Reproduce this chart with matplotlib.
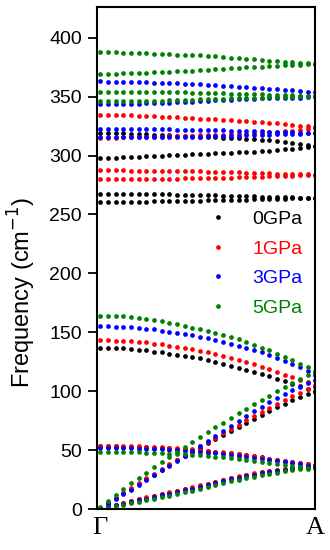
import numpy as np
import matplotlib
matplotlib.use("Agg")
import matplotlib.pyplot as plt
from matplotlib.lines import Line2D

plt.rcParams['font.family'] = ['Liberation Sans', 'DejaVu Sans']

# k-path Gamma -> A, 29 sampled points
k = np.linspace(0, 1, 29)

# ---------------- 0 GPa (black) ----------------
p0_opt1 = [319.1, 319.1, 319.0, 318.9, 318.7, 318.5, 318.2, 317.9, 317.6, 317.2, 316.9, 316.6, 316.3, 316.0, 315.7, 315.4, 315.1, 314.9, 314.6, 314.4, 314.0, 313.5, 312.9, 312.2, 311.5, 310.7, 309.8, 308.8, 307.8]
p0_opt2 = [298.2, 298.2, 298.3, 298.5, 298.8, 299.0, 299.3, 299.6, 299.9, 300.2, 300.5, 300.7, 301.0, 301.3, 301.6, 301.9, 302.1, 302.4, 302.7, 303.0, 303.4, 303.8, 304.3, 304.8, 305.3, 305.8, 306.4, 307.1, 307.8]
p0_opt3 = [267.7, 267.7, 267.6, 267.6, 267.5, 267.4, 267.3, 267.2, 267.1, 267.0, 266.9, 266.8, 266.6, 266.5, 266.3, 266.2, 266.0, 265.9, 265.7, 265.5, 265.4, 265.2, 265.0, 264.9, 264.7, 264.5, 264.4, 264.2, 264.0]
p0_opt4 = [260.6, 260.6, 260.7, 260.7, 260.8, 260.9, 261.0, 261.1, 261.2, 261.3, 261.4, 261.5, 261.6, 261.8, 261.9, 262.0, 262.2, 262.3, 262.5, 262.6, 262.8, 263.0, 263.1, 263.3, 263.4, 263.6, 263.7, 263.9, 264.0]
p0_low1 = [136.8, 136.8, 136.5, 136.3, 135.7, 135.1, 134.6, 133.7, 132.9, 132.0, 130.8, 130.0, 128.9, 127.8, 126.3, 124.7, 123.0, 121.5, 119.8, 118.1, 116.4, 114.5, 112.5, 110.5, 108.5, 106.5, 104.3, 102.0, 100.3]
p0_steep = [0.8, 4.8, 9.0, 13.2, 17.3, 21.3, 25.3, 29.2, 33.0, 37.3, 41.5, 45.0, 48.6, 52.2, 55.7, 59.3, 62.9, 66.4, 69.9, 73.3, 76.7, 80.0, 83.2, 86.4, 89.4, 92.4, 95.2, 97.5, 99.5]
p0_flat = [53.2, 53.2, 53.1, 53.0, 52.9, 52.7, 52.5, 52.2, 51.9, 51.6, 51.2, 50.8, 50.3, 49.8, 49.2, 48.6, 47.9, 47.2, 46.4, 45.6, 44.7, 43.8, 42.8, 41.8, 40.8, 39.8, 38.9, 38.0, 37.2]
p0_ta = [0.4, 1.9, 3.5, 5.1, 6.7, 8.2, 9.7, 11.2, 12.6, 14.0, 15.4, 16.8, 18.2, 19.8, 21.4, 23.0, 24.6, 26.1, 27.5, 28.8, 30.0, 31.1, 32.1, 33.0, 33.9, 34.7, 35.5, 36.3, 37.0]

# ---------------- 1 GPa (red) ----------------
p1_opt1 = [334.7, 334.7, 334.6, 334.4, 334.2, 334.0, 333.7, 333.4, 333.1, 332.7, 332.4, 332.1, 331.8, 331.4, 331.1, 330.7, 330.4, 330.0, 329.7, 329.3, 328.9, 328.4, 327.9, 327.3, 326.7, 326.1, 325.5, 324.9, 324.2]
p1_opt2 = [315.2, 315.2, 315.3, 315.4, 315.5, 315.6, 315.8, 315.9, 316.1, 316.3, 316.5, 316.7, 316.9, 317.1, 317.3, 317.5, 317.8, 318.0, 318.3, 318.6, 318.9, 319.3, 319.7, 320.2, 320.7, 321.2, 321.8, 322.4, 323.0]
p1_opt3 = [287.5, 287.5, 287.4, 287.4, 287.3, 287.3, 287.2, 287.1, 287.0, 286.9, 286.8, 286.7, 286.6, 286.5, 286.3, 286.2, 286.0, 285.9, 285.7, 285.5, 285.3, 285.1, 284.9, 284.7, 284.5, 284.4, 284.2, 284.0, 283.8]
p1_opt4 = [279.8, 279.8, 279.9, 279.9, 280.0, 280.0, 280.1, 280.2, 280.3, 280.4, 280.5, 280.6, 280.7, 280.8, 280.9, 281.0, 281.2, 281.4, 281.6, 281.8, 282.0, 282.2, 282.4, 282.6, 282.8, 283.0, 283.3, 283.5, 283.8]
p1_low1 = [143.3, 143.3, 143.0, 142.7, 142.5, 141.9, 141.4, 140.5, 139.7, 138.8, 137.6, 136.8, 135.7, 134.2, 132.9, 131.2, 129.7, 128.3, 126.3, 124.4, 122.7, 120.7, 118.5, 116.2, 114.0, 111.9, 109.8, 107.7, 105.6]
p1_steep = [1.2, 5.3, 9.6, 13.9, 18.0, 22.0, 26.0, 29.9, 33.8, 37.8, 41.8, 45.8, 49.6, 53.3, 57.0, 60.7, 64.4, 68.0, 71.6, 75.2, 78.8, 82.3, 85.8, 89.2, 92.5, 95.7, 98.7, 101.5, 104.0]
p1_flat = [53.6, 53.6, 53.5, 53.4, 53.3, 53.1, 52.9, 52.6, 52.3, 52.0, 51.6, 51.1, 50.6, 50.1, 49.5, 48.8, 48.1, 47.4, 46.6, 45.7, 44.8, 43.8, 42.8, 41.8, 40.8, 39.8, 38.8, 37.9, 37.0]
p1_ta = [0.4, 2.0, 3.6, 5.3, 6.9, 8.4, 9.9, 11.4, 12.8, 14.2, 15.6, 17.0, 18.4, 20.0, 21.6, 23.2, 24.8, 26.3, 27.7, 29.0, 30.2, 31.3, 32.3, 33.2, 34.1, 34.9, 35.7, 36.4, 37.0]

# ---------------- 3 GPa (blue) ----------------
p3_opt1 = [362.9, 362.8, 362.7, 362.6, 362.4, 362.3, 362.1, 361.9, 361.7, 361.5, 361.3, 361.0, 360.7, 360.4, 360.1, 359.7, 359.2, 358.8, 358.3, 357.8, 357.4, 357.0, 356.6, 356.2, 355.8, 355.3, 354.8, 354.3, 353.8]
p3_opt2 = [343.7, 343.7, 343.8, 343.9, 344.0, 344.2, 344.4, 344.6, 344.8, 345.0, 345.3, 345.6, 345.9, 346.2, 346.5, 346.8, 347.1, 347.4, 347.7, 348.0, 348.3, 348.5, 348.7, 348.9, 349.1, 349.2, 349.3, 349.4, 349.5]
p3_opt3 = [322.8, 322.8, 322.7, 322.7, 322.6, 322.6, 322.5, 322.4, 322.3, 322.2, 322.1, 322.0, 321.9, 321.7, 321.6, 321.5, 321.3, 321.2, 321.0, 320.8, 320.6, 320.5, 320.3, 320.1, 319.9, 319.7, 319.5, 319.3, 319.1]
p3_opt4 = [315.4, 315.4, 315.4, 315.5, 315.5, 315.5, 315.6, 315.6, 315.7, 315.7, 315.8, 315.9, 316.0, 316.1, 316.3, 316.4, 316.6, 316.8, 317.0, 317.2, 317.4, 317.6, 317.8, 318.0, 318.2, 318.4, 318.6, 318.9, 319.1]
p3_low1 = [155.2, 155.2, 154.9, 154.6, 154.3, 153.7, 152.9, 152.4, 151.2, 150.3, 149.2, 148.4, 147.3, 146.1, 144.9, 143.5, 142.0, 140.4, 138.7, 136.9, 135.0, 133.0, 130.8, 128.5, 126.0, 123.4, 120.6, 117.2, 113.6]
p3_steep = [1.0, 4.5, 8.5, 12.5, 16.5, 20.4, 24.6, 28.7, 32.8, 36.9, 41.0, 45.2, 49.5, 53.8, 58.0, 62.3, 66.6, 70.8, 75.0, 79.0, 83.0, 86.8, 90.5, 94.0, 97.5, 100.8, 103.8, 106.7, 109.5]
p3_flat = [51.8, 51.8, 51.7, 51.6, 51.5, 51.3, 51.1, 50.9, 50.6, 50.3, 49.9, 49.5, 49.0, 48.5, 47.9, 47.3, 46.6, 45.9, 45.1, 44.3, 43.4, 42.5, 41.6, 40.6, 39.6, 38.7, 37.8, 36.9, 36.2]
p3_ta = [0.3, 1.7, 3.1, 4.6, 6.0, 7.4, 8.8, 10.2, 11.6, 13.0, 14.4, 15.8, 17.2, 18.8, 20.4, 22.0, 23.6, 25.2, 26.6, 28.0, 29.2, 30.3, 31.3, 32.2, 33.1, 33.9, 34.7, 35.4, 35.9]

# ---------------- 5 GPa (green) ----------------
p5_opt1 = [387.8, 387.7, 387.6, 387.4, 387.2, 387.0, 386.8, 386.6, 386.4, 386.1, 385.8, 385.6, 385.3, 385.0, 384.7, 384.2, 383.7, 383.2, 382.7, 382.1, 381.6, 381.2, 380.7, 380.3, 379.8, 379.3, 378.8, 378.4, 378.0]
p5_opt2 = [369.4, 369.5, 369.6, 369.8, 370.0, 370.2, 370.4, 370.6, 370.8, 371.1, 371.4, 371.7, 372.1, 372.4, 372.8, 373.2, 373.6, 374.0, 374.4, 374.8, 375.2, 375.5, 375.9, 376.2, 376.5, 376.9, 377.3, 377.7, 378.1]
p5_opt3 = [354.4, 354.4, 354.3, 354.3, 354.2, 354.2, 354.1, 354.0, 353.9, 353.8, 353.7, 353.6, 353.5, 353.3, 353.2, 353.0, 352.9, 352.7, 352.6, 352.4, 352.2, 352.0, 351.8, 351.6, 351.4, 351.2, 351.0, 350.7, 350.4]
p5_opt4 = [346.0, 346.0, 346.1, 346.2, 346.3, 346.4, 346.5, 346.6, 346.7, 346.9, 347.1, 347.3, 347.5, 347.7, 347.9, 348.1, 348.3, 348.5, 348.7, 348.9, 349.1, 349.3, 349.5, 349.7, 349.9, 350.0, 350.2, 350.3, 350.4]
p5_low1 = [164.2, 164.1, 163.9, 163.6, 163.1, 162.4, 161.5, 160.5, 159.4, 158.1, 156.8, 155.4, 154.0, 152.6, 151.1, 149.5, 147.8, 146.0, 144.0, 141.8, 139.5, 137.1, 134.6, 132.0, 129.3, 126.5, 123.5, 120.4, 117.3]
p5_steep = [1.5, 7.0, 12.0, 17.0, 21.8, 26.5, 31.0, 35.6, 40.0, 44.3, 48.6, 52.8, 57.1, 61.3, 65.5, 69.5, 73.4, 77.4, 81.3, 85.1, 88.9, 92.5, 96.2, 99.8, 103.3, 106.8, 110.2, 113.4, 116.3]
p5_flat = [48.6, 48.6, 48.5, 48.4, 48.3, 48.1, 47.9, 47.7, 47.4, 47.1, 46.8, 46.4, 46.0, 45.5, 45.0, 44.4, 43.8, 43.1, 42.4, 41.6, 40.8, 40.0, 39.1, 38.2, 37.3, 36.5, 35.7, 35.0, 34.4]
p5_ta = [0.2, 1.2, 2.4, 3.7, 4.9, 6.1, 7.4, 8.7, 10.0, 11.3, 12.7, 14.1, 15.5, 17.0, 18.6, 20.2, 21.8, 23.4, 24.9, 26.3, 27.6, 28.8, 29.9, 30.9, 31.9, 32.8, 33.6, 34.3, 34.9]

labels = ['0GPa', '1GPa', '3GPa', '5GPa']
colors = ['black', '#ff0000', '#0000ff', '#008000']
series = [
    [p0_opt1, p0_opt2, p0_opt3, p0_opt4, p0_low1, p0_steep, p0_flat, p0_ta],
    [p1_opt1, p1_opt2, p1_opt3, p1_opt4, p1_low1, p1_steep, p1_flat, p1_ta],
    [p3_opt1, p3_opt2, p3_opt3, p3_opt4, p3_low1, p3_steep, p3_flat, p3_ta],
    [p5_opt1, p5_opt2, p5_opt3, p5_opt4, p5_low1, p5_steep, p5_flat, p5_ta],
]

fig = plt.figure(figsize=(3.3, 5.5), dpi=100)
ax = fig.add_axes([0.293, 0.0745, 0.663, 0.9125])

ms = 3.4
for bands, col in zip(series, colors):
    for b in bands:
        ax.plot(k, b, linestyle='none', marker='o', markersize=ms,
                markeredgewidth=0, color=col)

ax.set_xlim(-0.016, 1.0)
ax.set_ylim(0, 426)
ax.set_yticks(np.arange(0, 401, 50))
ax.tick_params(axis='y', direction='out', length=6.5, width=1.3,
               labelsize=14, pad=4)
ax.set_xticks([0, 1.0])
ax.set_xticklabels(['Γ', 'A'], fontfamily='Liberation Serif', fontsize=19)
ax.tick_params(axis='x', length=0, pad=6)
for s in ax.spines.values():
    s.set_linewidth(1.5)

ax.set_ylabel('Frequency (cm$^{-1}$)', fontsize=17)
ax.yaxis.set_label_coords(-0.27, 0.432)

handles = [Line2D([], [], linestyle='none', marker='o', markersize=ms,
                  markeredgewidth=0, color=c) for c in colors]
leg = ax.legend(handles, labels, loc='upper left', bbox_to_anchor=(0.43, 0.63),
                frameon=False, fontsize=14, handlelength=1.0,
                handletextpad=1.25, labelspacing=0.62, borderpad=0.4)
for t, c in zip(leg.get_texts(), colors):
    t.set_color(c)

fig.savefig('out.png', dpi=100)
